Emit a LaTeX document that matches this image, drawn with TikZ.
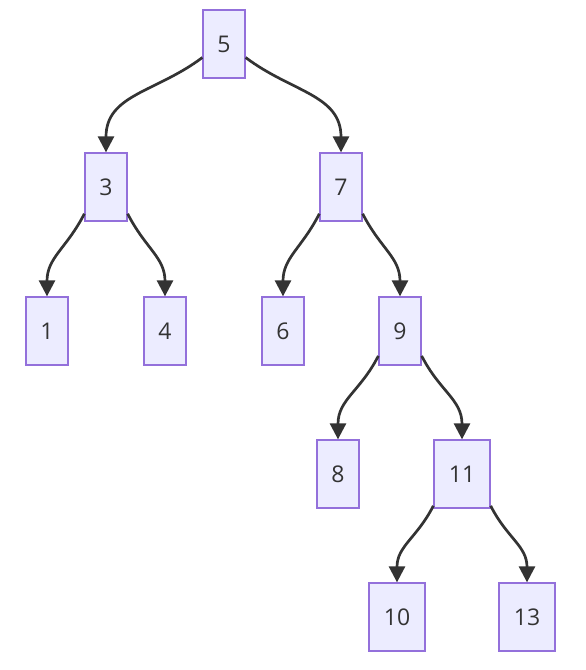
\documentclass[tikz,border=0pt]{standalone}
\usepackage{fontspec}
\setmainfont{Open Sans}
\usetikzlibrary{arrows.meta}
\definecolor{keyfill}{HTML}{ECECFF}
\definecolor{keyline}{HTML}{9370DB}
\definecolor{linkline}{HTML}{333333}

\begin{document}
\begin{tikzpicture}[x=1pt,y=1pt,
	key/.style={draw=keyline, fill=keyfill, line width=1.3pt, minimum width=42pt,
		minimum height=68pt, inner sep=0pt, text=linkline, font=\fontsize{23}{27}\selectfont},
	widekey/.style={key, minimum width=56pt},
	link/.style={draw=linkline, line width=2.7pt, looseness=1.1, -{Triangle[length=16pt,width=16pt]}}]
	
	\useasboundingbox (0,0) rectangle (586,-670);
	
	% keys of the tree
	\node[key] (n5) at (224,-44) {5};
	\node[key] (n3) at (106,-187) {3};
	\node[key] (n7) at (341,-187) {7};
	\node[key] (n1) at (47,-331) {1};
	\node[key] (n4) at (165,-331) {4};
	\node[key] (n6) at (283,-331) {6};
	\node[key] (n9) at (400,-331) {9};
	\node[key] (n8) at (338,-474) {8};
	\node[widekey] (n11) at (462,-474) {11};
	\node[widekey] (n10) at (397,-617) {10};
	\node[widekey] (n13) at (527,-617) {13};
	
	% links
	\draw[link] (n5.212) to[out=217,in=90] (n3.north);
	\draw[link] (n5.328) to[out=-37,in=90] (n7.north);
	
	\draw[link] (n3.231) to[out=243,in=90] (n1.north);
	\draw[link] (n3.309) to[out=-63,in=90] (n4.north);
	
	\draw[link] (n7.231) to[out=243,in=90] (n6.north);
	\draw[link] (n7.309) to[out=-63,in=90] (n9.north);
	
	\draw[link] (n9.229) to[out=243,in=90] (n8.north);
	\draw[link] (n9.311) to[out=-63,in=90] (n11.north);
	
	\draw[link] (n11.228) to[out=243,in=90] (n10.north);
	\draw[link] (n11.312) to[out=-63,in=90] (n13.north);
	
\end{tikzpicture}
\end{document}
